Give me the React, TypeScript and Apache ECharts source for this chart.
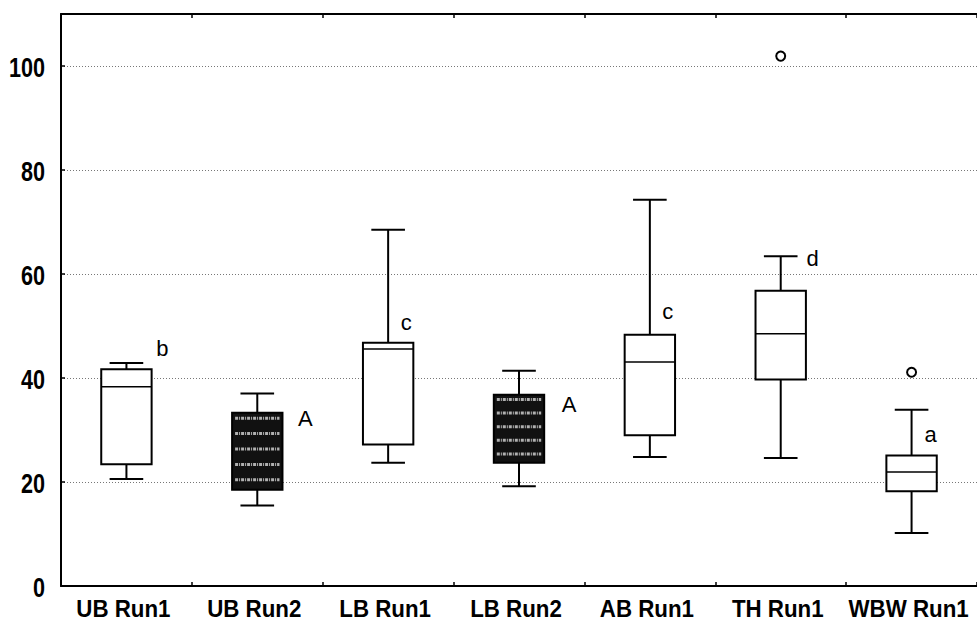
import React, { useEffect, useRef } from "react";
import * as echarts from "echarts";

const categories = ["UB Run1", "UB Run2", "LB Run1", "LB Run2", "AB Run1", "TH Run1", "WBW Run1"];
const whiskerLow = [20.6, 15.5, 23.7, 19.2, 24.8, 24.6, 10.2];
const q1 = [23.4, 18.5, 27.2, 23.7, 29.0, 39.7, 18.2];
const median = [38.3, 26.0, 45.6, 30.5, 43.1, 48.5, 21.9];
const q3 = [41.7, 33.3, 46.8, 36.8, 48.3, 56.8, 25.1];
const whiskerHigh = [42.9, 37.0, 68.5, 41.4, 74.3, 63.4, 33.9];
const darkBox = [false, true, false, true, false, false, false];
const outlierCategory = [5, 6];
const outlierValue = [101.9, 41.1];
const letters = ["b", "A", "c", "A", "c", "d", "a"];
const letterValue = [45.6, 32.2, 50.6, 34.9, 52.8, 63.0, 29.1];
const letterDx = [36, 48, 18, 50, 18, 32, 19];

const yMin = 0;
const yMax = 110;
const yInterval = 20;
const yTickLabels = [0, 20, 40, 60, 80, 100];

const labelFont = "'Liberation Sans', Arial, Helvetica, sans-serif";

export default function App() {
  const ref = useRef<HTMLDivElement>(null);
  useEffect(() => {
    if (!ref.current) return;
    const chart = echarts.init(ref.current, undefined, { renderer: "svg" });
    const boxData = categories.map((_, i) => [i, whiskerLow[i], q1[i], median[i], q3[i], whiskerHigh[i], darkBox[i] ? 1 : 0]);
    const letterData = categories.map((_, i) => [i, letterValue[i], letterDx[i]]);
    const outlierData = outlierCategory.map((c, k) => [c, outlierValue[k]]);
    const xLabelData = categories.map((_, i) => [i, yMin]);
    const yLabelData = yTickLabels.map((v) => [0, v]);

    const axisCommon = {
      axisLine: { show: true, lineStyle: { color: "#000", width: 2 } },
      axisTick: { show: true, inside: true, length: 4, lineStyle: { color: "#000", width: 1.5 } },
    };

    const option: any = {
      animation: false,
      backgroundColor: "#ffffff",
      grid: { left: 61, top: 14, width: 927, height: 572, containLabel: false },
      xAxis: [
        {
          type: "category",
          data: categories,
          position: "bottom",
          boundaryGap: true,
          ...axisCommon,
          axisLabel: { show: false },
          splitLine: { show: false },
        },
        {
          type: "category",
          data: categories,
          position: "top",
          boundaryGap: true,
          ...axisCommon,
          axisLabel: { show: false },
          splitLine: { show: false },
        },
      ],
      yAxis: {
        type: "value",
        min: yMin,
        max: yMax,
        interval: yInterval,
        ...axisCommon,
        axisLabel: { show: false },
        splitLine: { show: true, lineStyle: { color: "#777", width: 1, type: [1, 2] } },
      },
      series: [
        {
          type: "custom",
          xAxisIndex: 0,
          data: boxData,
          encode: { x: 0, y: [1, 2, 3, 4, 5] },
          renderItem: (params: any, api: any) => {
            const i = api.value(0);
            const band = api.size([1, 0])[0];
            const boxW = band * 0.385;
            const capW = band * 0.257;
            const pLow = api.coord([i, api.value(1)]);
            const pQ1 = api.coord([i, api.value(2)]);
            const pMed = api.coord([i, api.value(3)]);
            const pQ3 = api.coord([i, api.value(4)]);
            const pHigh = api.coord([i, api.value(5)]);
            const dark = api.value(6) === 1;
            const cx = pLow[0];
            const line = { stroke: "#000", lineWidth: 2 };
            const children: any[] = [
              { type: "line", shape: { x1: cx, y1: pLow[1], x2: cx, y2: pQ1[1] }, style: line },
              { type: "line", shape: { x1: cx, y1: pQ3[1], x2: cx, y2: pHigh[1] }, style: line },
              { type: "line", shape: { x1: cx - capW / 2, y1: pLow[1], x2: cx + capW / 2, y2: pLow[1] }, style: line },
              { type: "line", shape: { x1: cx - capW / 2, y1: pHigh[1], x2: cx + capW / 2, y2: pHigh[1] }, style: line },
              {
                type: "rect",
                shape: { x: cx - boxW / 2, y: pQ3[1], width: boxW, height: pQ1[1] - pQ3[1] },
                style: { fill: dark ? "#111" : "#fff", stroke: "#000", lineWidth: 2 },
              },
            ];
            if (dark) {
              const h = pQ1[1] - pQ3[1];
              for (let k = 0; k < 5; k++) {
                const yy = pQ3[1] + (k + 0.35) * h / 5;
                children.push({
                  type: "line",
                  shape: { x1: cx - boxW / 2 + 3, y1: yy, x2: cx + boxW / 2 - 3, y2: yy },
                  style: { stroke: "#b0b0b0", lineWidth: 3, lineDash: [3, 1, 1, 1] },
                });
              }
            } else {
              children.push({
                type: "line",
                shape: { x1: cx - boxW / 2, y1: pMed[1], x2: cx + boxW / 2, y2: pMed[1] },
                style: { stroke: "#000", lineWidth: 1.5 },
              });
            }
            return { type: "group", children };
          },
          z: 3,
        },
        {
          type: "scatter",
          xAxisIndex: 0,
          data: outlierData,
          symbol: "circle",
          symbolSize: 9,
          itemStyle: { color: "#fff", borderColor: "#000", borderWidth: 2, opacity: 1 },
          z: 4,
        },
        {
          type: "custom",
          xAxisIndex: 0,
          data: letterData,
          encode: { x: 0, y: 1 },
          renderItem: (params: any, api: any) => {
            const i = api.value(0);
            const p = api.coord([i, api.value(1)]);
            return {
              type: "text",
              x: p[0] + api.value(2),
              y: p[1],
              style: {
                text: letters[params.dataIndex],
                fill: "#000",
                font: `22px ${labelFont}`,
                textAlign: "center",
                textVerticalAlign: "middle",
              },
            };
          },
          z: 5,
        },
        {
          // category tick labels (condensed bold)
          type: "custom",
          xAxisIndex: 0,
          data: xLabelData,
          encode: { x: 0, y: 1 },
          clip: false,
          renderItem: (params: any, api: any) => {
            const i = api.value(0);
            const p = api.coord([i, api.value(1)]);
            return {
              type: "text",
              x: p[0] - 3,
              y: p[1] + 23,
              scaleX: 0.93,
              style: {
                text: categories[params.dataIndex],
                fill: "#000",
                font: `bold 24px ${labelFont}`,
                textAlign: "center",
                textVerticalAlign: "middle",
              },
            };
          },
          z: 5,
        },
        {
          // value axis tick labels (condensed bold)
          type: "custom",
          xAxisIndex: 0,
          data: yLabelData,
          encode: { x: 0, y: 1 },
          clip: false,
          renderItem: (params: any, api: any) => {
            const p = api.coord([0, api.value(1)]);
            return {
              type: "text",
              x: params.coordSys.x - 16,
              y: p[1] + 2,
              scaleX: 0.8,
              style: {
                text: String(yTickLabels[params.dataIndex]),
                fill: "#000",
                font: `bold 27px ${labelFont}`,
                textAlign: "right",
                textVerticalAlign: "middle",
              },
            };
          },
          z: 5,
        },
      ],
    };
    chart.setOption(option);
    return () => chart.dispose();
  }, []);
  return (
    <div
      ref={ref}
      style={{ position: "absolute", left: 0, top: 0, width: 977, height: 622, background: "#fff" }}
    />
  );
}
